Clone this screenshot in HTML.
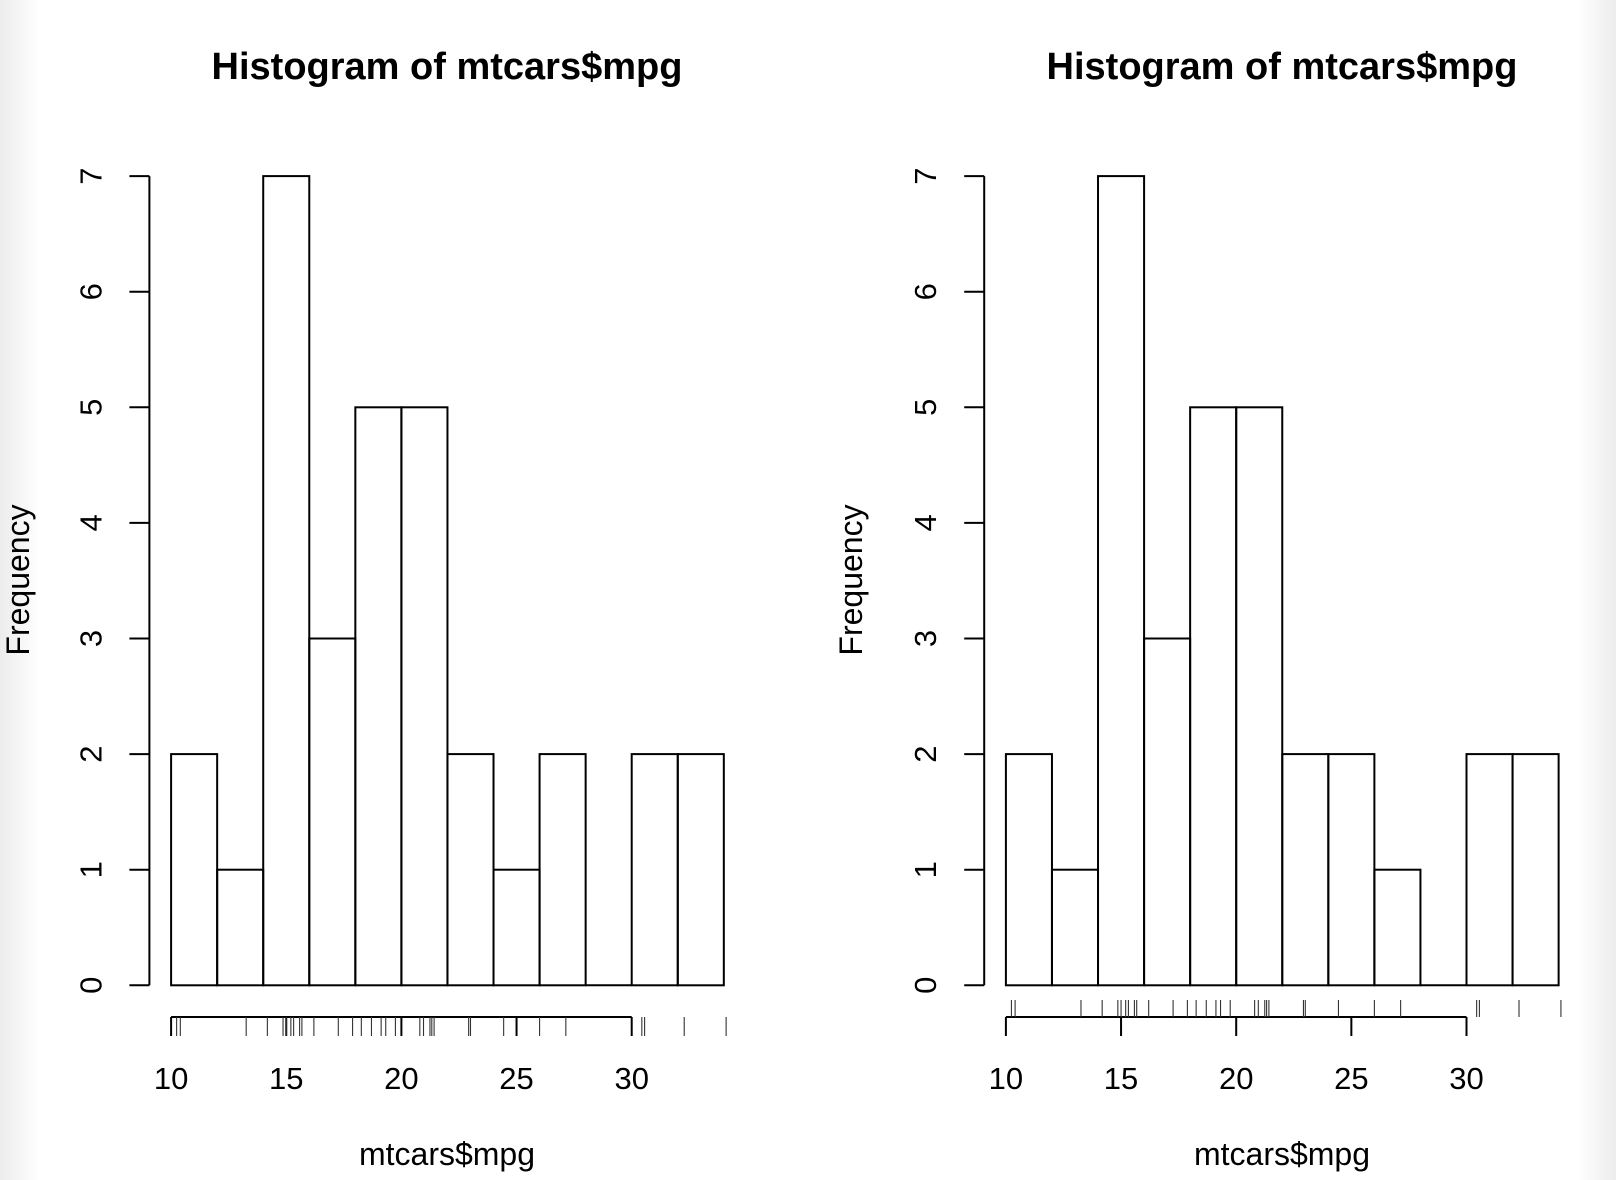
<!DOCTYPE html>
<html><head><meta charset="utf-8"><style>
html,body{margin:0;padding:0;background:#fff}
svg{display:block}
text{font-family:"Liberation Sans",Arial,sans-serif;fill:#000}
</style></head><body>
<svg id="s" width="1616" height="1180" xmlns="http://www.w3.org/2000/svg">
<defs>
<linearGradient id="gl" x1="0" x2="1"><stop offset="0" stop-color="#ececec"/><stop offset="1" stop-color="#fff"/></linearGradient>
<linearGradient id="gr" x1="1" x2="0"><stop offset="0" stop-color="#ececec"/><stop offset="1" stop-color="#fff"/></linearGradient>
</defs>
<rect x="0" y="0" width="40" height="1180" fill="url(#gl)"/>
<rect x="1578" y="0" width="38" height="1180" fill="url(#gr)"/>
<text x="447" y="79" font-size="38" font-weight="bold" text-anchor="middle">Histogram of mtcars$mpg</text>
<text x="1282" y="79" font-size="38" font-weight="bold" text-anchor="middle">Histogram of mtcars$mpg</text>
<text x="447" y="1165" font-size="32" text-anchor="middle">mtcars$mpg</text>
<text x="1282" y="1165" font-size="32" text-anchor="middle">mtcars$mpg</text>
<text transform="translate(29,580) rotate(-90)" font-size="32" text-anchor="middle">Frequency</text>
<text transform="translate(862,580) rotate(-90)" font-size="32" text-anchor="middle">Frequency</text>
<g id="g"></g>
</svg>
<script>
const ns="http://www.w3.org/2000/svg",g=document.getElementById("g");
function el(t,a,txt){const e=document.createElementNS(ns,t);for(const k in a)e.setAttribute(k,a[k]);if(txt!==undefined)e.textContent=txt;g.appendChild(e);return e;}
function ln(x1,y1,x2,y2,w,c){el("line",{x1,y1,x2,y2,stroke:c||"#000","stroke-width":w||2});}
const mpg=[21,21,22.8,21.4,18.7,18.1,14.3,24.4,22.8,19.2,17.8,16.4,17.3,15.2,10.4,10.4,14.7,32.4,30.4,33.9,21.5,15.5,15.2,13.3,19.2,27.3,26,30.4,15.8,19.7,15,21.4];
const y0=985.3,yu=115.6,xu=23.03;
function plot(ax,x10,counts,rugAbove){
 const X=v=>x10+(v-10)*xu;
 ln(ax,y0,ax,y0-7*yu);
 for(let i=0;i<=7;i++){const y=y0-i*yu;ln(ax-20,y,ax,y);
  el("text",{transform:`translate(${ax-48},${y}) rotate(-90)`,"font-size":"31","text-anchor":"middle"},String(i));}
 counts.forEach((c,i)=>{const x=X(10+2*i);if(c>0)el("rect",{x,y:y0-c*yu,width:2*xu,height:c*yu,fill:"none",stroke:"#000","stroke-width":2});else ln(x,y0,x+2*xu,y0);});
 const ya=1017;ln(X(10),ya,X(30),ya);
 for(let v=10;v<=30;v+=5){ln(X(v),ya,X(v),ya+19);el("text",{x:X(v),y:1089,"font-size":"31","text-anchor":"middle"},String(v));}
 mpg.forEach((v,i)=>{const j=((i*37)%11-5)*0.04;const x=X(v+j);
  if(rugAbove)ln(x,1000,x,ya,1.1,"#333");else ln(x,ya,x,ya+19,1.1,"#333");});
}
plot(149.4,171.1,[2,1,7,3,5,5,2,1,2,0,2,2],false);
plot(984.2,1005.9,[2,1,7,3,5,5,2,2,1,0,2,2],true);
</script>
</body></html>
